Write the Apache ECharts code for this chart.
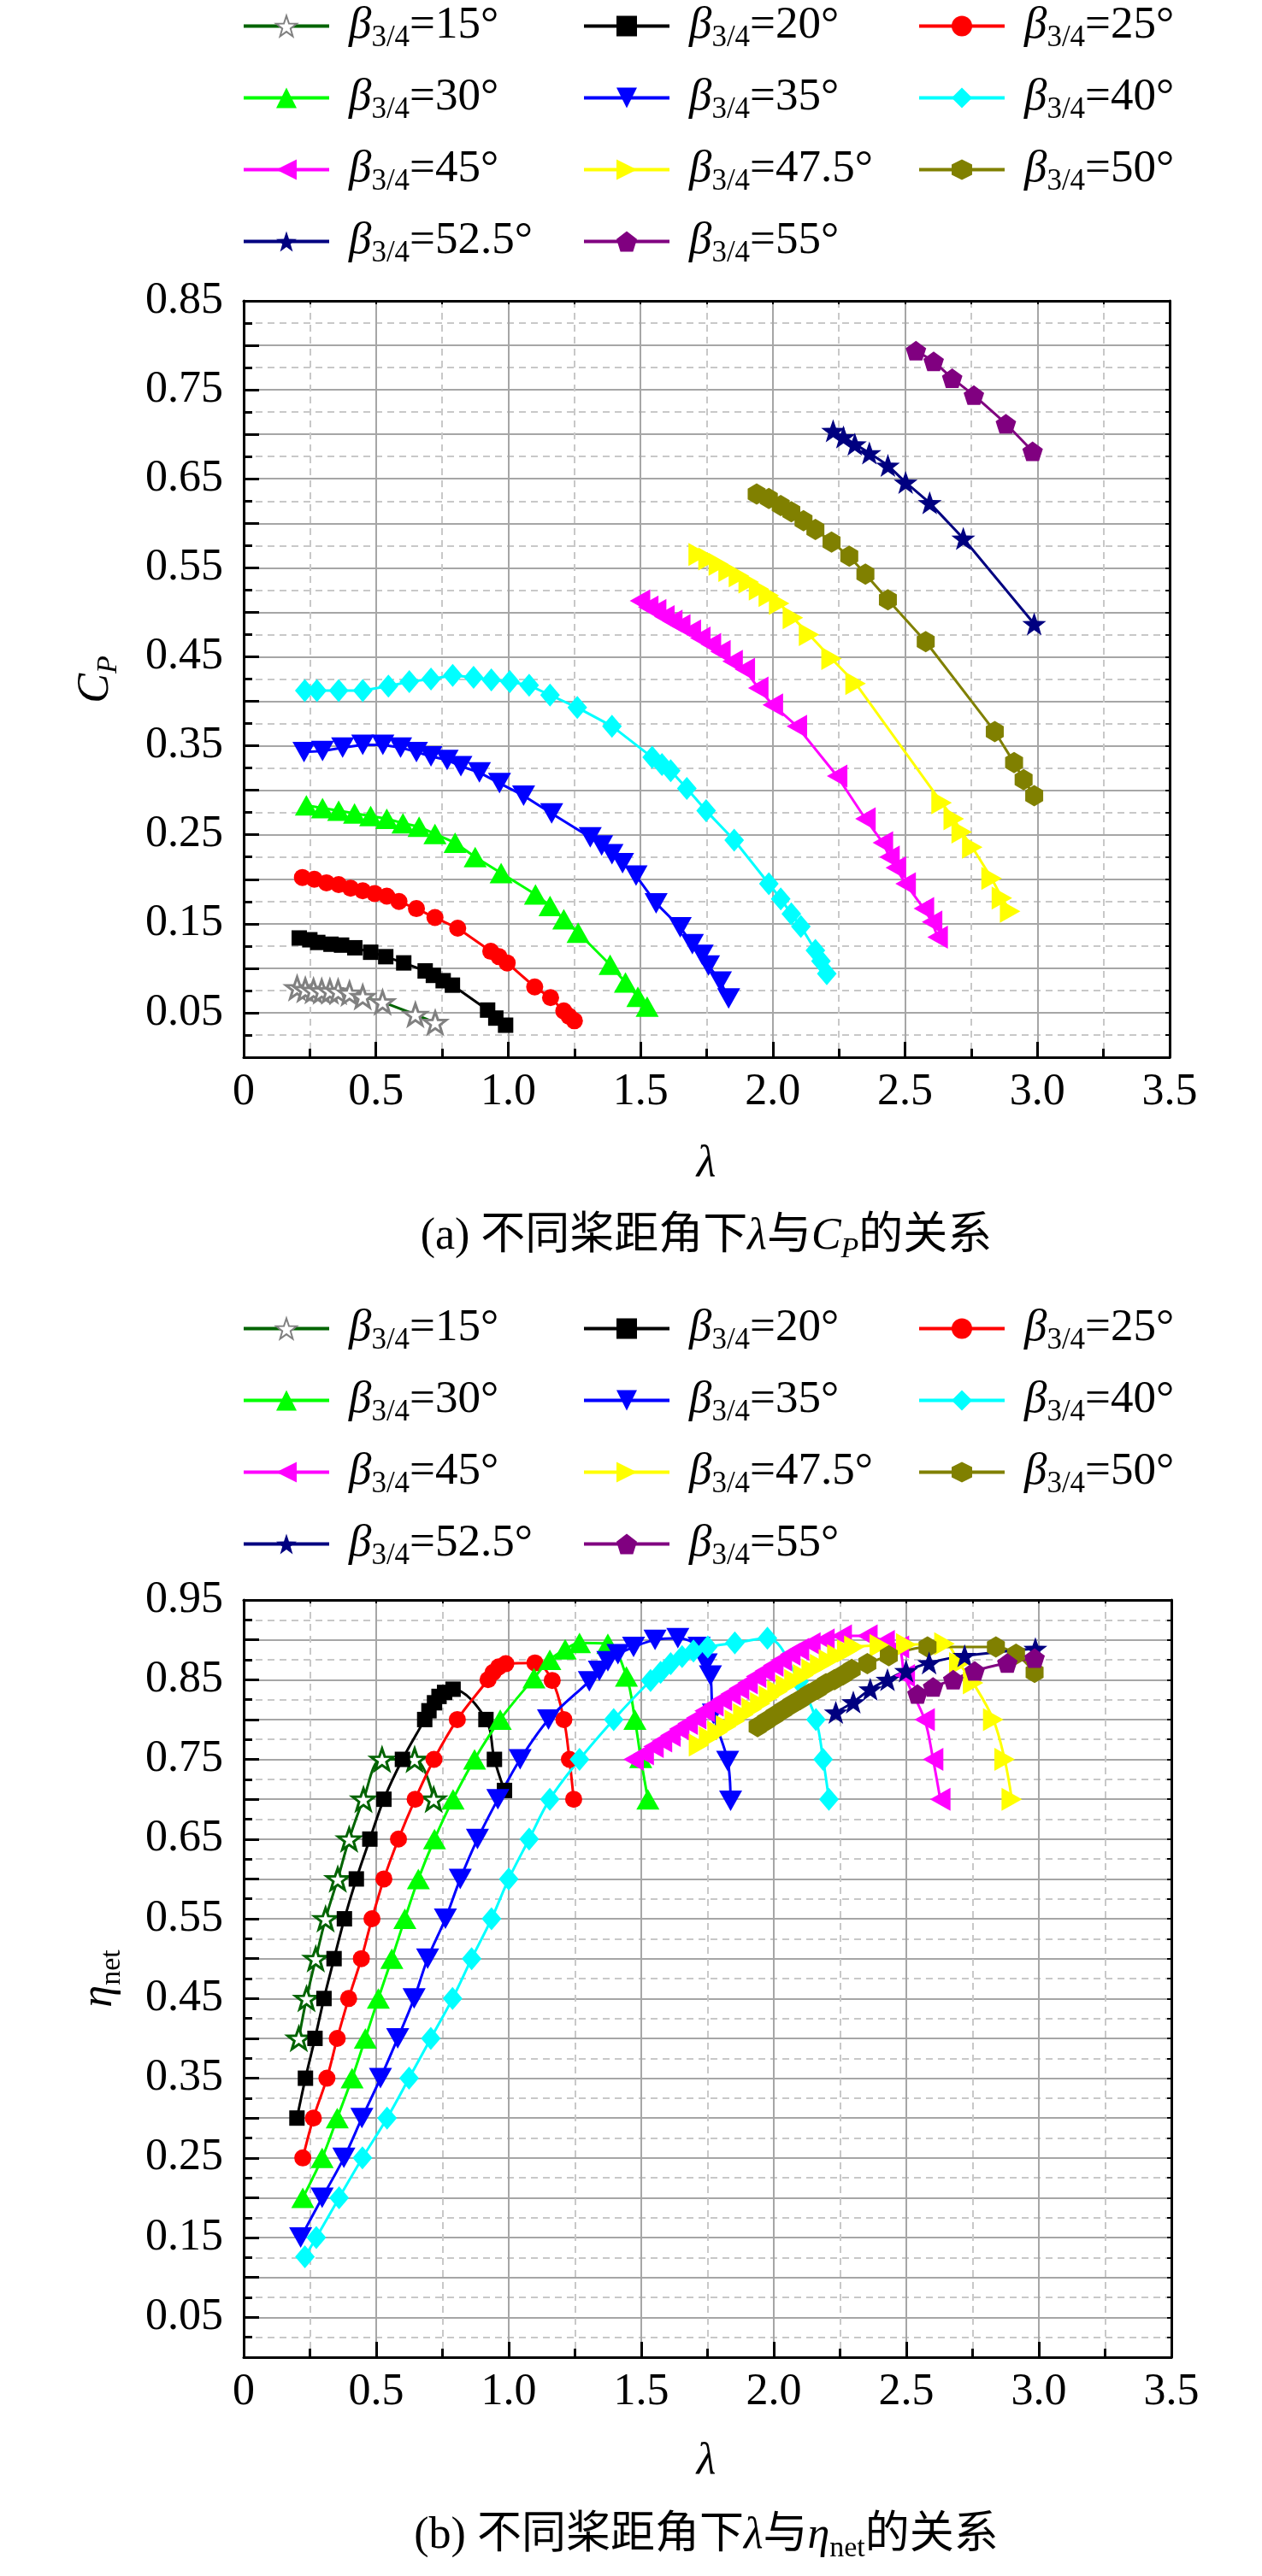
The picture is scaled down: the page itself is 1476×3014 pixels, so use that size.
<!DOCTYPE html>
<html>
<head>
<meta charset="utf-8">
<script src="https://cdn.jsdelivr.net/npm/echarts@6/dist/echarts.min.js"></script>
<style>
  html, body { margin: 0; padding: 0; background: #fff; }
  #chart { width: 1476px; height: 3014px; }
</style>
</head>
<body>
<div id="chart"></div>
<script>
let chart = echarts.init(document.getElementById('chart'));

// pitch angles beta_3/4 in degrees
const angles = ['15', '20', '25', '30', '35', '40', '45', '47.5', '50', '52.5', '55'];

// ---- (a) lambda vs Cp ----
const cpLam15 = [0.202, 0.233, 0.264, 0.295, 0.326, 0.357, 0.400, 0.450, 0.525, 0.649, 0.724];
const cpVal15 = [0.078, 0.076, 0.075, 0.0745, 0.0745, 0.074, 0.072, 0.068, 0.062, 0.048, 0.039];
const cpLam20 = [0.21, 0.25, 0.28, 0.33, 0.37, 0.42, 0.48, 0.537, 0.605, 0.686, 0.717, 0.754, 0.789, 0.922, 0.953, 0.99];
const cpVal20 = [0.134, 0.132, 0.129, 0.127, 0.126, 0.123, 0.118, 0.113, 0.106, 0.097, 0.092, 0.086, 0.081, 0.053, 0.044, 0.036];
const cpLam25 = [0.222, 0.267, 0.313, 0.359, 0.404, 0.450, 0.495, 0.541, 0.587, 0.653, 0.723, 0.809, 0.934, 0.965, 0.996, 1.10, 1.16, 1.21, 1.23, 1.25];
const cpVal25 = [0.202, 0.200, 0.196, 0.194, 0.190, 0.187, 0.184, 0.181, 0.175, 0.167, 0.157, 0.145, 0.119, 0.113, 0.106, 0.079, 0.067, 0.052, 0.046, 0.041];
const cpLam30 = [0.237, 0.298, 0.359, 0.419, 0.480, 0.541, 0.602, 0.663, 0.723, 0.799, 0.875, 0.973, 1.103, 1.158, 1.210, 1.264, 1.385, 1.443, 1.490, 1.525];
const cpVal30 = [0.283, 0.280, 0.277, 0.274, 0.271, 0.268, 0.263, 0.259, 0.251, 0.241, 0.225, 0.207, 0.183, 0.170, 0.155, 0.140, 0.104, 0.084, 0.068, 0.057];
const cpLam35 = [0.228, 0.298, 0.374, 0.450, 0.526, 0.593, 0.653, 0.708, 0.769, 0.821, 0.891, 0.967, 1.058, 1.164, 1.310, 1.353, 1.392, 1.432, 1.483, 1.559, 1.650, 1.696, 1.733, 1.757, 1.802, 1.833];
const cpVal35 = [0.343, 0.344, 0.348, 0.351, 0.351, 0.348, 0.343, 0.338, 0.334, 0.327, 0.320, 0.308, 0.294, 0.274, 0.247, 0.238, 0.228, 0.218, 0.204, 0.173, 0.146, 0.127, 0.115, 0.103, 0.085, 0.066];
const cpLam40 = [0.231, 0.277, 0.359, 0.450, 0.547, 0.626, 0.708, 0.790, 0.869, 0.936, 1.006, 1.079, 1.158, 1.261, 1.392, 1.544, 1.581, 1.614, 1.675, 1.748, 1.854, 1.985, 2.030, 2.070, 2.106, 2.161, 2.182, 2.204];
const cpVal40 = [0.412, 0.412, 0.412, 0.412, 0.417, 0.422, 0.425, 0.429, 0.427, 0.424, 0.422, 0.418, 0.407, 0.393, 0.372, 0.337, 0.329, 0.322, 0.302, 0.277, 0.244, 0.195, 0.178, 0.161, 0.147, 0.120, 0.108, 0.094];
const cpLam45 = [1.498, 1.529, 1.559, 1.590, 1.620, 1.650, 1.690, 1.726, 1.766, 1.802, 1.848, 1.894, 1.945, 2.000, 2.091, 2.243, 2.350, 2.416, 2.441, 2.465, 2.502, 2.571, 2.602, 2.623];
const cpVal45 = [0.513, 0.506, 0.502, 0.495, 0.490, 0.485, 0.479, 0.471, 0.464, 0.456, 0.445, 0.436, 0.415, 0.396, 0.372, 0.316, 0.268, 0.241, 0.225, 0.213, 0.195, 0.167, 0.152, 0.135];
const cpLam475 = [1.720, 1.757, 1.796, 1.833, 1.872, 1.909, 1.948, 1.985, 2.024, 2.076, 2.137, 2.222, 2.313, 2.638, 2.684, 2.714, 2.754, 2.827, 2.866, 2.897];
const cpVal475 = [0.565, 0.560, 0.554, 0.547, 0.541, 0.534, 0.526, 0.519, 0.510, 0.494, 0.475, 0.448, 0.420, 0.286, 0.268, 0.253, 0.236, 0.201, 0.179, 0.164];
const cpLam50 = [1.939, 1.985, 2.030, 2.070, 2.116, 2.161, 2.222, 2.289, 2.350, 2.435, 2.578, 2.839, 2.912, 2.948, 2.988];
const cpVal50 = [0.633, 0.628, 0.620, 0.613, 0.603, 0.593, 0.579, 0.563, 0.543, 0.514, 0.467, 0.366, 0.331, 0.312, 0.294];
const cpLam525 = [2.228, 2.267, 2.310, 2.365, 2.435, 2.502, 2.593, 2.720, 2.988];
const cpVal525 = [0.704, 0.697, 0.689, 0.679, 0.665, 0.646, 0.623, 0.583, 0.487];
const cpLam55 = [2.541, 2.608, 2.678, 2.760, 2.881, 2.982];
const cpVal55 = [0.794, 0.782, 0.763, 0.744, 0.712, 0.681];

// ---- (b) lambda vs eta_net ----
const etaLam15 = [0.208, 0.237, 0.272, 0.309, 0.355, 0.398, 0.452, 0.522, 0.645, 0.717];
const etaVal15 = [0.40, 0.45, 0.50, 0.55, 0.60, 0.65, 0.70, 0.75, 0.75, 0.70];
const etaLam20 = [0.201, 0.233, 0.269, 0.303, 0.341, 0.380, 0.425, 0.476, 0.529, 0.599, 0.683, 0.699, 0.720, 0.737, 0.758, 0.790, 0.914, 0.946, 0.984];
const etaVal20 = [0.30, 0.35, 0.40, 0.45, 0.50, 0.55, 0.60, 0.65, 0.70, 0.75, 0.80, 0.811, 0.821, 0.829, 0.834, 0.838, 0.80, 0.75, 0.711];
const etaLam25 = [0.223, 0.263, 0.314, 0.353, 0.396, 0.444, 0.484, 0.529, 0.584, 0.647, 0.718, 0.806, 0.922, 0.941, 0.962, 0.989, 1.099, 1.164, 1.208, 1.229, 1.245];
const etaVal25 = [0.25, 0.30, 0.35, 0.40, 0.45, 0.50, 0.55, 0.60, 0.65, 0.70, 0.75, 0.80, 0.85, 0.859, 0.866, 0.870, 0.871, 0.849, 0.80, 0.75, 0.70];
const etaLam30 = [0.223, 0.296, 0.353, 0.409, 0.459, 0.508, 0.559, 0.608, 0.659, 0.720, 0.790, 0.871, 0.968, 1.095, 1.155, 1.213, 1.267, 1.374, 1.444, 1.476, 1.498, 1.525];
const etaVal30 = [0.20, 0.25, 0.30, 0.35, 0.40, 0.45, 0.50, 0.55, 0.60, 0.65, 0.70, 0.75, 0.80, 0.852, 0.875, 0.888, 0.896, 0.895, 0.854, 0.80, 0.752, 0.70];
const etaLam35 = [0.215, 0.296, 0.378, 0.446, 0.516, 0.581, 0.643, 0.694, 0.761, 0.817, 0.882, 0.959, 1.043, 1.150, 1.304, 1.342, 1.374, 1.412, 1.471, 1.552, 1.638, 1.718, 1.745, 1.761, 1.772, 1.826, 1.837];
const etaVal35 = [0.15, 0.20, 0.25, 0.30, 0.35, 0.40, 0.45, 0.50, 0.55, 0.60, 0.65, 0.70, 0.75, 0.80, 0.848, 0.861, 0.873, 0.882, 0.891, 0.900, 0.902, 0.891, 0.870, 0.855, 0.807, 0.748, 0.698];
const etaLam40 = [0.231, 0.274, 0.360, 0.448, 0.541, 0.624, 0.706, 0.788, 0.860, 0.935, 1.000, 1.077, 1.155, 1.267, 1.396, 1.535, 1.573, 1.611, 1.654, 1.697, 1.751, 1.853, 1.976, 2.095, 2.159, 2.186, 2.208];
const etaVal40 = [0.126, 0.15, 0.20, 0.25, 0.30, 0.35, 0.40, 0.45, 0.50, 0.55, 0.60, 0.65, 0.70, 0.75, 0.80, 0.849, 0.859, 0.870, 0.879, 0.886, 0.891, 0.896, 0.902, 0.848, 0.80, 0.75, 0.70];
const etaLam45 = [1.471, 1.509, 1.546, 1.578, 1.610, 1.643, 1.675, 1.707, 1.739, 1.772, 1.804, 1.837, 1.869, 1.901, 1.933, 1.966, 1.998, 2.030, 2.062, 2.095, 2.138, 2.191, 2.256, 2.353, 2.418, 2.472, 2.494, 2.569, 2.601, 2.628];
const etaVal45 = [0.750, 0.757, 0.766, 0.773, 0.780, 0.788, 0.795, 0.802, 0.811, 0.818, 0.825, 0.832, 0.839, 0.846, 0.854, 0.861, 0.868, 0.875, 0.882, 0.888, 0.895, 0.900, 0.905, 0.905, 0.898, 0.891, 0.855, 0.80, 0.75, 0.70];
const etaLam475 = [1.718, 1.756, 1.788, 1.820, 1.853, 1.885, 1.917, 1.949, 1.982, 2.014, 2.046, 2.078, 2.111, 2.143, 2.175, 2.208, 2.240, 2.277, 2.304, 2.400, 2.500, 2.644, 2.700, 2.752, 2.828, 2.871, 2.898];
const etaVal475 = [0.768, 0.777, 0.784, 0.791, 0.798, 0.806, 0.813, 0.820, 0.828, 0.835, 0.842, 0.849, 0.855, 0.862, 0.868, 0.874, 0.880, 0.886, 0.891, 0.893, 0.894, 0.895, 0.870, 0.846, 0.80, 0.75, 0.70];
const etaLam50 = [1.939, 1.971, 2.003, 2.035, 2.068, 2.100, 2.132, 2.165, 2.197, 2.229, 2.261, 2.294, 2.353, 2.434, 2.580, 2.838, 2.914, 2.984];
const etaVal50 = [0.791, 0.798, 0.805, 0.812, 0.819, 0.825, 0.832, 0.838, 0.845, 0.850, 0.856, 0.863, 0.870, 0.880, 0.891, 0.891, 0.882, 0.859];
const etaLam525 = [2.234, 2.300, 2.364, 2.429, 2.499, 2.586, 2.720, 2.987];
const etaVal525 = [0.809, 0.822, 0.838, 0.850, 0.861, 0.871, 0.880, 0.889];
const etaLam55 = [2.542, 2.601, 2.677, 2.758, 2.881, 2.984];
const etaVal55 = [0.832, 0.841, 0.850, 0.861, 0.871, 0.877];

const cpSets = [[cpLam15, cpVal15], [cpLam20, cpVal20], [cpLam25, cpVal25], [cpLam30, cpVal30], [cpLam35, cpVal35],
  [cpLam40, cpVal40], [cpLam45, cpVal45], [cpLam475, cpVal475], [cpLam50, cpVal50], [cpLam525, cpVal525], [cpLam55, cpVal55]];
const etaSets = [[etaLam15, etaVal15], [etaLam20, etaVal20], [etaLam25, etaVal25], [etaLam30, etaVal30], [etaLam35, etaVal35],
  [etaLam40, etaVal40], [etaLam45, etaVal45], [etaLam475, etaVal475], [etaLam50, etaVal50], [etaLam525, etaVal525], [etaLam55, etaVal55]];

// marker shapes
const starPath = 'path://M50,0 L61.76,33.82 L97.55,34.55 L69.02,56.18 L79.39,90.45 L50,70 L20.61,90.45 L30.98,56.18 L2.45,34.55 L38.24,33.82 Z';
const pentaPath = 'path://M50,0 L97.55,34.55 L79.39,90.45 L20.61,90.45 L2.45,34.55 Z';
const hexPath = 'path://M50,0 L93.3,25 L93.3,75 L50,100 L6.7,75 L6.7,25 Z';
const downPath = 'path://M0,0 L100,0 L50,100 Z';
const leftPath = 'path://M0,50 L100,0 L100,100 Z';
const rightPath = 'path://M0,0 L100,50 L0,100 Z';

const looks = [
  { symbol: starPath, size: [26, 25], line: '#006400', fill: '#ffffff', border: '#808080' },
  { symbol: 'rect', size: 18, line: '#000000', fill: '#000000' },
  { symbol: 'circle', size: 20, line: '#ff0000', fill: '#ff0000' },
  { symbol: 'triangle', size: [27, 24], line: '#00ff00', fill: '#00ff00' },
  { symbol: downPath, size: [27, 24], line: '#0000ff', fill: '#0000ff' },
  { symbol: 'diamond', size: [23, 27], line: '#00ffff', fill: '#00ffff' },
  { symbol: leftPath, size: [24, 27], line: '#ff00ff', fill: '#ff00ff' },
  { symbol: rightPath, size: [24, 27], line: '#ffff00', fill: '#ffff00' },
  { symbol: hexPath, size: [21, 25], line: '#808000', fill: '#808000' },
  { symbol: starPath, size: [28, 27], line: '#000080', fill: '#000080' },
  { symbol: pentaPath, size: [24, 23], line: '#800080', fill: '#800080' }
];

const serif = "'Liberation Serif', 'Times New Roman', 'Noto Sans CJK SC', serif";

function makeSeries(sets, xIdx, yIdx, plotB) {
  return sets.map((pair, i) => {
    let lk = looks[i];
    let item = { color: lk.fill };
    if (lk.border) {
      item.borderColor = plotB ? '#006400' : lk.border;
      item.borderWidth = 3;
    }
    return {
      name: angles[i],
      type: 'line',
      xAxisIndex: xIdx,
      yAxisIndex: yIdx,
      data: pair[0].map((x, k) => [x, pair[1][k]]),
      symbol: lk.symbol,
      symbolSize: lk.size,
      smooth: plotB ? 0.35 : false,
      lineStyle: { color: lk.line, width: 3 },
      itemStyle: item,
      emphasis: { disabled: true }
    };
  });
}

function bottomX(gridIndex) {
  return {
    type: 'value', gridIndex: gridIndex, min: 0, max: 3.5, interval: 0.5,
    axisLine: { onZero: false, lineStyle: { color: '#000', width: 3 } },
    axisTick: { inside: true, length: 18, lineStyle: { color: '#000', width: 3 } },
    minorTick: { show: true, splitNumber: 2, length: 10, lineStyle: { color: '#000', width: 3 } },
    axisLabel: {
      margin: 15, color: '#000', fontFamily: serif, fontSize: 52,
      formatter: v => v === 0 ? '0' : v.toFixed(1)
    },
    splitLine: { show: true, lineStyle: { color: '#a6a6a6', width: 2 } },
    minorSplitLine: { show: true, lineStyle: { color: '#c8c8c8', width: 2, type: [8, 6] } }
  };
}

function topX(gridIndex) {
  return {
    type: 'value', gridIndex: gridIndex, position: 'top', min: 0, max: 3.5, interval: 0.5,
    axisLine: { onZero: false, lineStyle: { color: '#000', width: 3 } },
    axisTick: { inside: true, length: 4, lineStyle: { color: '#000', width: 2 } },
    minorTick: { show: true, splitNumber: 2, length: 4, lineStyle: { color: '#000', width: 2 } },
    axisLabel: { show: false },
    splitLine: { show: false }
  };
}

function leftY(gridIndex, max) {
  return {
    type: 'value', gridIndex: gridIndex, min: 0, max: max, interval: 0.05,
    axisLine: { onZero: false, lineStyle: { color: '#000', width: 3 } },
    axisTick: { inside: true, length: 18, lineStyle: { color: '#000', width: 3 } },
    minorTick: { show: true, splitNumber: 2, length: 10, lineStyle: { color: '#000', width: 3 } },
    axisLabel: {
      margin: 24, color: '#000', fontFamily: serif, fontSize: 52,
      showMaxLabel: true,
      formatter: v => {
        let k = Math.round(v * 100);
        return k % 10 === 5 ? (k / 100).toFixed(2) : '';
      }
    },
    splitLine: { show: true, lineStyle: { color: '#a6a6a6', width: 2 } },
    minorSplitLine: { show: true, lineStyle: { color: '#c8c8c8', width: 2, type: [8, 6] } }
  };
}

function rightY(gridIndex, max) {
  return {
    type: 'value', gridIndex: gridIndex, position: 'right', min: 0, max: max, interval: 0.05,
    axisLine: { onZero: false, lineStyle: { color: '#000', width: 3 } },
    axisTick: { inside: true, length: 5, lineStyle: { color: '#000', width: 2 } },
    minorTick: { show: true, splitNumber: 2, length: 5, lineStyle: { color: '#000', width: 2 } },
    axisLabel: { show: false },
    splitLine: { show: false }
  };
}

const legendRich = {
  b: { fontFamily: serif, fontStyle: 'italic', fontSize: 53, lineHeight: 62, color: '#000', padding: [0, 0, 0, 18] },
  s: { fontFamily: serif, fontSize: 35, lineHeight: 34, color: '#000', padding: [28, 0, 0, 0] },
  n: { fontFamily: serif, fontSize: 53, lineHeight: 62, color: '#000' }
};

const legendCols = [['15', '30', '45', '52.5'], ['20', '35', '47.5', '55'], ['25', '40', '50']];
const legendLeft = [283, 681, 1073];

function makeLegends(top) {
  return legendCols.map((names, c) => ({
    orient: 'vertical',
    left: legendLeft[c],
    top: top,
    padding: 0,
    itemGap: 21,
    itemWidth: 100,
    itemHeight: 30,
    selectedMode: false,
    data: names,
    lineStyle: { width: 4 },
    formatter: name => '{b|β}{s|3/4}{n|=' + name + '°}',
    textStyle: { fontFamily: serif, rich: legendRich }
  }));
}

const capRich = {
  n: { fontFamily: serif, fontSize: 52, lineHeight: 66, color: '#000' },
  i: { fontFamily: serif, fontStyle: 'italic', fontSize: 52, lineHeight: 66, color: '#000' },
  si: { fontFamily: serif, fontStyle: 'italic', fontSize: 34, lineHeight: 36, color: '#000', padding: [30, 0, 0, 0] },
  s: { fontFamily: serif, fontSize: 34, lineHeight: 36, color: '#000', padding: [30, 0, 0, 0] }
};

function label(x, y, text, rotate) {
  return {
    type: 'text', x: x, y: y, rotation: rotate ? Math.PI / 2 : 0,
    style: { text: text, rich: capRich, textAlign: 'center', textVerticalAlign: 'middle' }
  };
}

let options = {
  animation: false,
  backgroundColor: '#fff',
  grid: [
    { left: 285, top: 352, width: 1083, height: 885 },
    { left: 285, top: 1872, width: 1085, height: 886 }
  ],
  xAxis: [bottomX(0), topX(0), bottomX(1), topX(1)],
  yAxis: [leftY(0, 0.85), rightY(0, 0.85), leftY(1, 0.95), rightY(1, 0.95)],
  legend: makeLegends(-1).concat(makeLegends(1523)),
  graphic: [
    label(112, 795, '{i|C}{si|P}', true),
    label(116, 2315, '{i|η}{s|net}', true),
    label(826, 1362, '{i|λ}', false),
    label(826, 2880, '{i|λ}', false),
    label(826, 1447, '{n|(a) 不同桨距角下}{i|λ}{n|与}{i|C}{si|P}{n|的关系}', false),
    label(826, 2967, '{n|(b) 不同桨距角下}{i|λ}{n|与}{i|η}{s|net}{n|的关系}', false)
  ],
  series: makeSeries(cpSets, 0, 0, false).concat(makeSeries(etaSets, 2, 2, true))
};

chart.setOption(options);
</script>
</body>
</html>
